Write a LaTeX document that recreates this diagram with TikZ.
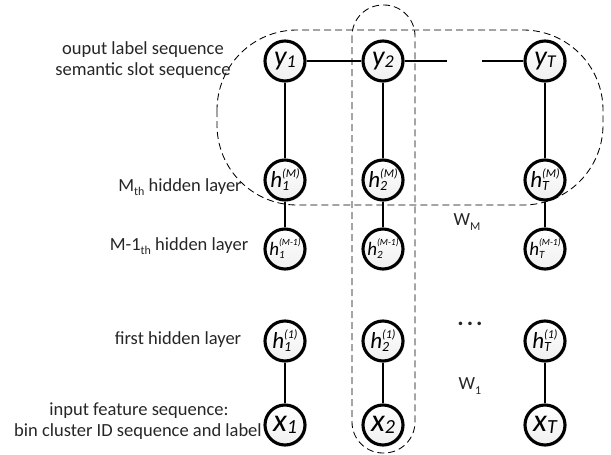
\documentclass[tikz,border=0pt]{standalone}
\usepackage{fontspec}
\setmainfont{Carlito}
\usetikzlibrary{shadows}

% italic letter with stacked subscript and superscript
\newcommand\unitlab[6]{%
  {\fontsize{#1}{#1}\selectfont\itshape #2}%
  \rlap{\raisebox{-0.35em}{\fontsize{#3}{#3}\selectfont\itshape #5}}%
  \raisebox{0.95em}{\fontsize{#4}{#4}\selectfont\itshape #6}}
% italic letter with subscript only
\newcommand\sublab[4]{%
  {\fontsize{#1}{#1}\selectfont\itshape #3}%
  \raisebox{-0.2em}{\fontsize{#2}{#2}\selectfont\itshape #4}}
\newcommand\lowsub[1]{\raisebox{-0.25em}{\fontsize{12}{12}\selectfont #1}}

\begin{document}
\begin{tikzpicture}[x=1pt,y=-1pt,
  unit/.style={circle, draw, line width=3.1pt, minimum size=40pt, inner sep=0pt,
    top color=white, bottom color=gray!12,
    drop shadow={shadow xshift=1.6pt, shadow yshift=-1.6pt, opacity=0.25, fill=gray}},
  link/.style={line width=1.3pt},
  group/.style={draw=black, line width=0.85pt, dash pattern=on 7pt off 4pt},
  lbl/.style={font=\fontsize{18.5}{20}\selectfont, text=black!85, align=center, inner sep=0pt},
  wlbl/.style={font=\fontsize{18.5}{20}\selectfont, text=black!85, inner sep=0pt}]
\useasboundingbox (0,0) rectangle (611,455);

% group outlines
\draw[group, rounded corners=80pt] (217,30) rectangle (603,205);
\draw[group, rounded corners=31pt] (352,5) rectangle (415,453);

% output layer
\node[unit] (y1) at (285,61) {\sublab{28}{18}{y}{1}};
\node[unit] (y2) at (383,61) {\sublab{28}{18}{y}{2}};
\node[unit] (yT) at (545,61) {\sublab{28}{18}{y}{T}};
% M-th hidden layer
\node[unit] (hM1) at (285,180) {\unitlab{23}{h}{14}{12}{1}{(M)}};
\node[unit] (hM2) at (383,180) {\unitlab{23}{h}{14}{12}{2}{(M)}};
\node[unit] (hMT) at (545,180) {\unitlab{23}{h}{14}{12}{T}{(M)}};
% (M-1)-th hidden layer
\node[unit] (hL1) at (285,249) {\unitlab{19}{h}{11}{9.5}{1}{(M-1)}};
\node[unit] (hL2) at (383,249) {\unitlab{19}{h}{11}{9.5}{2}{(M-1)}};
\node[unit] (hLT) at (545,249) {\unitlab{19}{h}{11}{9.5}{T}{(M-1)}};
% first hidden layer
\node[unit] (hF1) at (285,341) {\unitlab{23}{h}{14}{12}{1}{(1)}};
\node[unit] (hF2) at (383,341) {\unitlab{23}{h}{14}{12}{2}{(1)}};
\node[unit] (hFT) at (545,341) {\unitlab{23}{h}{14}{12}{T}{(1)}};
% input layer
\node[unit] (x1) at (285,425) {\sublab{32}{20}{x}{1}};
\node[unit] (x2) at (383,425) {\sublab{32}{20}{x}{2}};
\node[unit] (xT) at (545,425) {\sublab{32}{20}{x}{T}};

% open ends of the output chain
\coordinate (gapL) at (447,61);
\coordinate (gapR) at (482,61);

% connections
\draw[link] (y1) -- (y2);
\draw[link] (y2) -- (gapL);
\draw[link] (gapR) -- (yT);
\foreach \c in {1,2,T}{
  \draw[link] (y\c) -- (hM\c);
  \draw[link] (hM\c) -- (hL\c);
  \draw[link] (hF\c) -- (x\c);
}

% layer captions
\node[lbl] (t1) at (143,50) {ouput label sequence};
\node[lbl] (t2) at (143,71) {semantic slot sequence};
\node[lbl] (t3) at (180,187) {M\lowsub{th} hidden layer};
\node[lbl] (t4) at (179,246) {M-1\lowsub{th} hidden layer};
\node[lbl] (t5) at (178,340) {first hidden layer};
\node[lbl] (t6) at (139,411) {input feature sequence:};
\node[lbl] (t7) at (138,432) {bin cluster ID sequence and label};

% weights and ellipsis
\node[wlbl] (wm) at (467,222) {W\lowsub{M}};
\node[wlbl] (w1) at (470,386) {W\lowsub{1}};
\node[wlbl, font=\fontsize{24}{24}\selectfont\bfseries] (dots) at (470,324) {.\hspace{3pt}.\hspace{3pt}.};
\end{tikzpicture}
\end{document}
